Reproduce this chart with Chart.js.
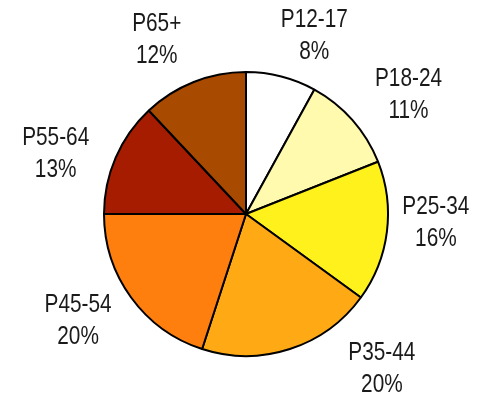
<!DOCTYPE html>
<html>
<head>
<meta charset="utf-8">
<script src="https://cdn.jsdelivr.net/npm/chart.js@4/dist/chart.umd.min.js"></script>
<style>
  html, body { margin: 0; padding: 0; background: #ffffff; }
  canvas { display: block; }
</style>
</head>
<body>
<canvas id="pie" width="479" height="397"></canvas>
<script>
// Age groups and their share of the total (%)
const categories = ['P12-17', 'P18-24', 'P25-34', 'P35-44', 'P45-54', 'P55-64', 'P65+'];
const shares = [8, 11, 16, 20, 20, 13, 12];
const sliceColors = ['#ffffff', '#fffaae', '#fff21c', '#ffaa14', '#ff7f0e', '#a51c00', '#a84a00'];

// Label placement: pixel shift from the middle of each slice's outer edge
const labelShift = [[33, -41], [56, -25], [49, -9], [92, 20], [-53, 23], [-60, -4], [-37, -42]];

const sliceLabels = {
  id: 'sliceLabels',
  afterDatasetsDraw(chart) {
    const ctx = chart.ctx;
    const meta = chart.getDatasetMeta(0);
    ctx.save();
    ctx.fillStyle = '#1a1a1a';
    ctx.font = '26px "Liberation Sans", Arial, sans-serif';
    ctx.textAlign = 'center';
    ctx.textBaseline = 'middle';
    meta.data.forEach((arc, i) => {
      const p = arc.getProps(['x', 'y', 'startAngle', 'endAngle', 'outerRadius'], true);
      const mid = (p.startAngle + p.endAngle) / 2;
      const ax = p.x + Math.cos(mid) * p.outerRadius + labelShift[i][0];
      const ay = p.y + Math.sin(mid) * p.outerRadius + labelShift[i][1];
      const lines = [categories[i], shares[i] + '%'];
      ctx.save();
      ctx.translate(ax, ay);
      ctx.scale(0.8, 1);
      ctx.fillText(lines[0], 0, -16);
      ctx.fillText(lines[1], 0, 16);
      ctx.restore();
    });
    ctx.restore();
  }
};

new Chart(document.getElementById('pie'), {
  type: 'pie',
  data: {
    labels: categories,
    datasets: [{
      data: shares,
      backgroundColor: sliceColors,
      borderColor: '#000000',
      borderWidth: 2
    }]
  },
  options: {
    responsive: false,
    animation: false,
    layout: { padding: { left: 103, right: 90, top: 71, bottom: 40 } },
    plugins: {
      legend: { display: false },
      tooltip: { enabled: false }
    }
  },
  plugins: [sliceLabels]
});
</script>
</body>
</html>
